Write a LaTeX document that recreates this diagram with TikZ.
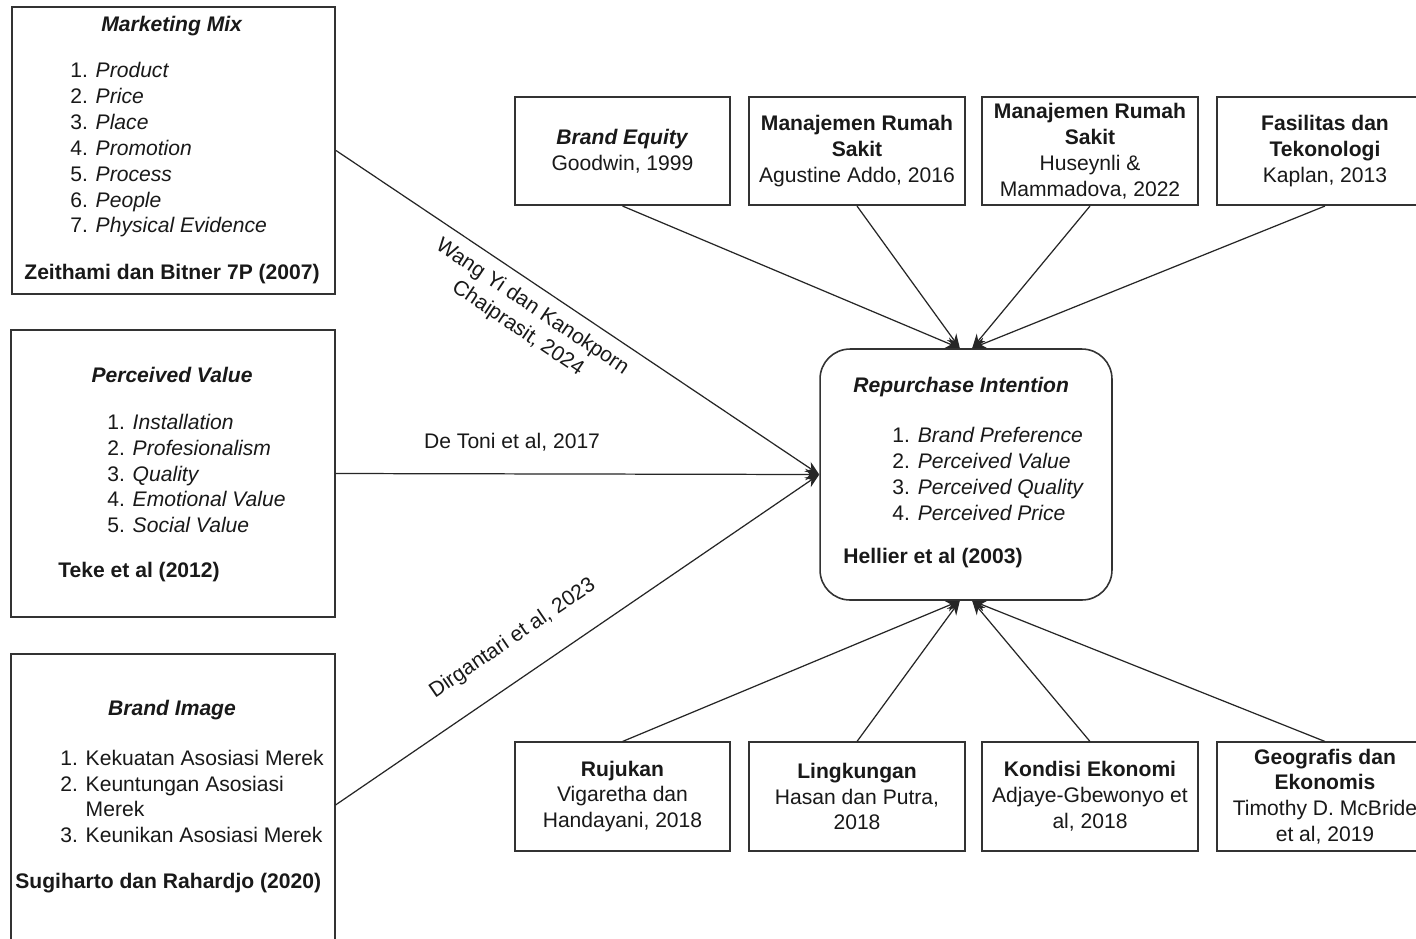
\documentclass[tikz,border=0pt]{standalone}
\usepackage{fontspec}
\setmainfont{Liberation Sans}
\usetikzlibrary{arrows.meta}

\begin{document}
\begin{tikzpicture}[x=0.02cm, y=-0.02cm,
  every node/.style={font=\fontsize{12}{14.7}\selectfont, text=black!90},
  box/.style={draw=black!80, line width=0.9pt, inner sep=0pt},
  bigbox/.style={box, minimum width=6.47cm},
  smallbox/.style={box, minimum width=4.31cm, minimum height=2.17cm, align=center},
  txt/.style={inner sep=0pt},
  link/.style={draw=black!85, line width=0.7pt, -{Stealth[length=8pt,width=6.5pt]}}]
  \useasboundingbox (0,0) rectangle (1416,938);
  \clip (0,0) rectangle (1416,938);
  \fill[white] (0,0) rectangle (1416,938);

  % Marketing mix
  \node[bigbox, minimum height=5.74cm] (mm) at (173.5,150.5) {};
  \node[txt] (mmtitle) at (172,26) {\textbf{\textit{Marketing Mix}}};
  \node[txt, anchor=west, align=left] (mmlist) at (70,150)
    {1. \textit{Product}\\2. \textit{Price}\\3. \textit{Place}\\4. \textit{Promotion}\\
     5. \textit{Process}\\6. \textit{People}\\7. \textit{Physical Evidence}};
  \node[txt] (mmref) at (172,274) {\textbf{Zeithami dan Bitner 7P (2007)}};

  % Perceived value
  \node[bigbox, minimum height=5.74cm] (pv) at (173,473.5) {};
  \node[txt] (pvtitle) at (172,375) {\textbf{\textit{Perceived Value}}};
  \node[txt, anchor=west, align=left] (pvlist) at (107,473.5)
    {1. \textit{Installation}\\2. \textit{Profesionalism}\\3. \textit{Quality}\\
     4. \textit{Emotional Value}\\5. \textit{Social Value}};
  \node[txt, anchor=west] (pvref) at (58,572) {\textbf{Teke et al (2012)}};

  % Brand image
  \node[bigbox, minimum height=6.04cm] (bi) at (173,805) {};
  \node[txt] (bititle) at (172,710) {\textbf{\textit{Brand Image}}};
  \node[txt, anchor=west, align=left] (bilist) at (60,796.5)
    {1. Kekuatan Asosiasi Merek\\2. Keuntungan Asosiasi\\\hphantom{2. }Merek\\
     3. Keunikan Asosiasi Merek};
  \node[txt, anchor=west] (biref) at (15,883) {\textbf{Sugiharto dan Rahardjo (2020)}};

  % Repurchase intention
  \node[box, rounded corners=0.6cm, minimum width=5.84cm, minimum height=5.02cm] (ri) at (966,474.5) {};
  \node[txt, anchor=west] (rititle) at (853,387) {\textbf{\textit{Repurchase Intention}}};
  \node[txt, anchor=west, align=left] (rilist) at (892,474)
    {1. \textit{Brand Preference}\\2. \textit{Perceived Value}\\
     3. \textit{Perceived Quality}\\4. \textit{Perceived Price}};
  \node[txt, anchor=west] (riref) at (843,558) {\textbf{Hellier et al (2003)}};

  % Top row
  \node[smallbox] (be)  at (622.5,151) {\textbf{\textit{Brand Equity}}\\Goodwin, 1999};
  \node[smallbox] (mr1) at (857,151) {\textbf{Manajemen Rumah}\\\textbf{Sakit}\\Agustine Addo, 2016};
  \node[smallbox] (mr2) at (1090,151) {\textbf{Manajemen Rumah}\\\textbf{Sakit}\\Huseynli \&\\Mammadova, 2022};
  \node[smallbox] (ft)  at (1325,151) {\textbf{Fasilitas dan}\\\textbf{Tekonologi}\\Kaplan, 2013};

  % Bottom row
  \node[smallbox] (rj) at (622.5,796.5) {\textbf{Rujukan}\\Vigaretha dan\\Handayani, 2018};
  \node[smallbox] (lk) at (857,796.5) {\textbf{Lingkungan}\\Hasan dan Putra,\\2018};
  \node[smallbox] (ke) at (1090,796.5) {\textbf{Kondisi Ekonomi}\\Adjaye-Gbewonyo et\\al, 2018};
  \node[smallbox] (ge) at (1325,796.5) {\textbf{Geografis dan}\\\textbf{Ekonomis}\\Timothy D. McBride\\et al, 2019};

  % Left links
  \draw[link] (mm.east) -- (ri.west)
    node[pos=0.43, sloped, below=5pt, inner sep=1pt, align=center] (wang) {Wang Yi dan Kanokporn\\Chaiprasit, 2024};
  \draw[link] (pv.east) -- (ri.west) node[pos=0.365, above=9pt] (toni) {De Toni et al, 2017};
  \draw[link] (bi.east) -- (ri.west) node[pos=0.41, sloped, above=12pt] (dirg) {Dirgantari et al, 2023};

  % Top and bottom links
  \draw[link] (be.south)  -- ([xshift=-3.5pt]ri.north);
  \draw[link] (mr1.south) -- ([xshift=-3.5pt]ri.north);
  \draw[link] (mr2.south) -- ([xshift=3.5pt]ri.north);
  \draw[link] (ft.south)  -- ([xshift=3.5pt]ri.north);
  \draw[link] (rj.north) -- ([xshift=-3.5pt]ri.south);
  \draw[link] (lk.north) -- ([xshift=-3.5pt]ri.south);
  \draw[link] (ke.north) -- ([xshift=3.5pt]ri.south);
  \draw[link] (ge.north) -- ([xshift=3.5pt]ri.south);
\end{tikzpicture}
\end{document}
